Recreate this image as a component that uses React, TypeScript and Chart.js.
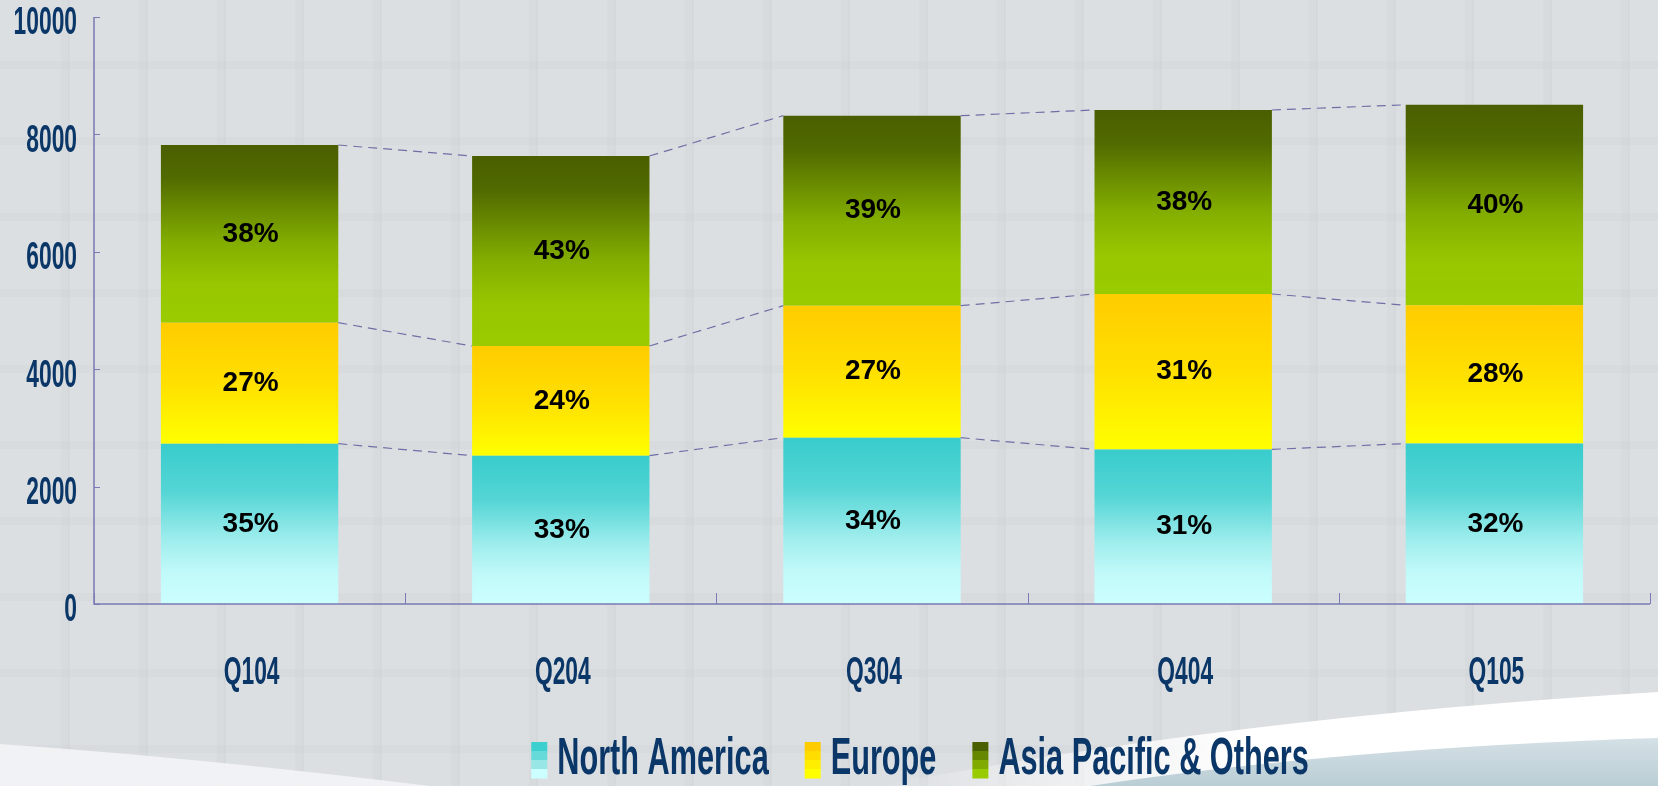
import React, { useEffect, useRef } from "react";
import { Chart, registerables } from "chart.js";

Chart.register(...registerables);

// ---- data ----
const categories = ["Q104", "Q204", "Q304", "Q404", "Q105"];
const seriesNames = ["North America", "Europe", "Asia Pacific & Others"];
const northAmerica = [2731, 2527, 2833, 2634, 2733];
const europe = [2061, 1868, 2249, 2647, 2356];
const asiaPacific = [3027, 3237, 3237, 3135, 3415];
const naLabels = ["35%", "33%", "34%", "31%", "32%"];
const euLabels = ["27%", "24%", "27%", "31%", "28%"];
const apLabels = ["38%", "43%", "39%", "38%", "40%"];
const yTicks = [0, 2000, 4000, 6000, 8000, 10000];

const stackData = [northAmerica, europe, asiaPacific];
const stackLabels = [naLabels, euLabels, apLabels];

// ---- styles ----
const NAVY = "#0B3768";
const AXIS = "#7A7AB4";
const DASH = "#6F6FA6";
const FONT = '"Liberation Sans", Arial, sans-serif';

type Stop = [number, string];
const gradStops: Stop[][] = [
  [
    [0, "#38CCCC"],
    [0.3, "#55D5D5"],
    [0.6, "#9FEDED"],
    [0.8, "#C1F9F9"],
    [1, "#CCFFFF"],
  ],
  [
    [0, "#FFCC00"],
    [0.5, "#FFE000"],
    [1, "#FFFF00"],
  ],
  [
    [0, "#4A5E00"],
    [0.18, "#516A00"],
    [0.55, "#83AE00"],
    [0.78, "#98C600"],
    [1, "#99CC00"],
  ],
];
const legendSteps = [
  ["#3CCFCF", "#66D9D9", "#99E6E6", "#CCFFFF"],
  ["#FFCC00", "#FFDD00", "#FFEE00", "#FFFF00"],
  ["#4A6000", "#668800", "#80AA00", "#99CC00"],
];

function makeGrad(ctx: CanvasRenderingContext2D, yTop: number, yBot: number, stops: Stop[]) {
  const g = ctx.createLinearGradient(0, yTop, 0, yBot);
  stops.forEach(([o, c]) => g.addColorStop(o, c));
  return g;
}

function squash(
  ctx: CanvasRenderingContext2D,
  text: string,
  x: number,
  y: number,
  size: number,
  sx: number,
  align: CanvasTextAlign
) {
  ctx.save();
  ctx.translate(x, y);
  ctx.scale(sx, 1);
  ctx.font = `bold ${size}px ${FONT}`;
  ctx.textAlign = align;
  ctx.textBaseline = "middle";
  ctx.fillStyle = NAVY;
  ctx.fillText(text, 0, 0);
  ctx.restore();
}

const backgroundPlugin = {
  id: "bgPlugin",
  beforeDraw(chart: any) {
    const ctx: CanvasRenderingContext2D = chart.ctx;
    const w = chart.width;
    const h = chart.height;
    ctx.save();
    ctx.fillStyle = "#DCDFE2";
    ctx.fillRect(0, 0, w, h);
    // very faint texture grid
    ctx.strokeStyle = "rgba(190,195,200,0.12)";
    ctx.lineWidth = 8;
    for (let x = 65; x < w; x += 78) {
      ctx.beginPath();
      ctx.moveTo(x, 0);
      ctx.lineTo(x, h);
      ctx.stroke();
    }
    for (let y = 65; y < h; y += 76) {
      ctx.beginPath();
      ctx.moveTo(0, y);
      ctx.lineTo(w, y);
      ctx.stroke();
    }
    ctx.strokeStyle = "rgba(200,204,209,0.25)";
    ctx.lineWidth = 2;
    for (let x = 69; x < w; x += 78) {
      ctx.beginPath();
      ctx.moveTo(x, 0);
      ctx.lineTo(x, h);
      ctx.stroke();
    }
    // bottom-left light arc
    ctx.beginPath();
    ctx.moveTo(0, 744);
    ctx.quadraticCurveTo(200, 758, 430, h);
    ctx.lineTo(0, h);
    ctx.closePath();
    ctx.fillStyle = "rgba(245,246,248,0.85)";
    ctx.fill();
    // white swoosh
    const wg = ctx.createLinearGradient(880, 0, 1250, 0);
    wg.addColorStop(0, "rgba(255,255,255,0)");
    wg.addColorStop(1, "rgba(255,255,255,1)");
    ctx.beginPath();
    ctx.moveTo(880, h);
    ctx.quadraticCurveTo(1230, 718, w, 692);
    ctx.lineTo(w, h);
    ctx.closePath();
    ctx.fillStyle = wg;
    ctx.fill();
    // blue-grey band under the swoosh
    const bg = ctx.createLinearGradient(0, 740, 0, h);
    bg.addColorStop(0, "#D3E0E5");
    bg.addColorStop(1, "#BACDD5");
    ctx.beginPath();
    ctx.moveTo(1090, h);
    ctx.quadraticCurveTo(1340, 748, w, 738);
    ctx.lineTo(w, h);
    ctx.closePath();
    ctx.fillStyle = bg;
    ctx.fill();
    ctx.restore();
  },
};

const overlayPlugin = {
  id: "overlayPlugin",
  afterDatasetsDraw(chart: any) {
    const ctx: CanvasRenderingContext2D = chart.ctx;
    const area = chart.chartArea;
    const xs = chart.scales.x;
    const ys = chart.scales.y;
    ctx.save();
    // dashed connectors
    ctx.strokeStyle = DASH;
    ctx.lineWidth = 1.2;
    ctx.setLineDash([9, 6]);
    chart.data.datasets.forEach((_: any, di: number) => {
      const meta = chart.getDatasetMeta(di);
      for (let i = 0; i < meta.data.length - 1; i++) {
        const a = meta.data[i].getProps(["x", "y", "width"], true);
        const b = meta.data[i + 1].getProps(["x", "y", "width"], true);
        ctx.beginPath();
        ctx.moveTo(a.x + a.width / 2, a.y);
        ctx.lineTo(b.x - b.width / 2, b.y);
        ctx.stroke();
      }
    });
    ctx.setLineDash([]);
    // percent labels
    ctx.fillStyle = "#000";
    ctx.font = `bold 28px ${FONT}`;
    ctx.textAlign = "center";
    ctx.textBaseline = "middle";
    chart.data.datasets.forEach((_: any, di: number) => {
      const meta = chart.getDatasetMeta(di);
      meta.data.forEach((el: any, i: number) => {
        const p = el.getProps(["x", "y", "base"], true);
        ctx.fillText(stackLabels[di][i], p.x + 1, (p.y + p.base) / 2);
      });
    });
    // axes
    ctx.strokeStyle = AXIS;
    ctx.lineWidth = 1.5;
    ctx.beginPath();
    ctx.moveTo(area.left, area.top);
    ctx.lineTo(area.left, area.bottom);
    ctx.lineTo(area.right, area.bottom);
    ctx.stroke();
    ctx.lineWidth = 1;
    yTicks.forEach((t) => {
      const y = Math.round(ys.getPixelForValue(t)) + 0.5;
      ctx.beginPath();
      ctx.moveTo(area.left, y);
      ctx.lineTo(area.left + 6, y);
      ctx.stroke();
    });
    const step = (area.right - area.left) / categories.length;
    for (let i = 0; i <= categories.length; i++) {
      const x = Math.round(area.left + i * step) + 0.5;
      ctx.beginPath();
      ctx.moveTo(x, area.bottom);
      ctx.lineTo(x, area.bottom - 11);
      ctx.stroke();
    }
    ctx.restore();

    // tick labels
    yTicks.forEach((t) => {
      squash(ctx, String(t), 77, ys.getPixelForValue(t) + 7, 38, 0.6, "right");
    });
    categories.forEach((c, i) => {
      squash(ctx, c, xs.getPixelForValue(i) + 2, 674, 38, 0.6, "center");
    });

    // legend
    const size = 52;
    const sx = 0.59;
    ctx.save();
    ctx.font = `bold ${size}px ${FONT}`;
    const widths = seriesNames.map((s) => ctx.measureText(s).width * sx);
    ctx.restore();
    const boxW = 16;
    const gap = 10;
    const itemGap = 36;
    const total = widths.reduce((a, b) => a + b, 0) + seriesNames.length * (boxW + gap) + (seriesNames.length - 1) * itemGap;
    let x = 920 - total / 2;
    const boxTop = 742;
    const boxH = 36;
    seriesNames.forEach((s, i) => {
      const steps = legendSteps[i];
      steps.forEach((c, k) => {
        ctx.fillStyle = c;
        ctx.fillRect(x, boxTop + (k * boxH) / steps.length, boxW, boxH / steps.length + 0.5);
      });
      x += boxW + gap;
      squash(ctx, s, x, 760, size, sx, "left");
      x += widths[i] + itemGap;
    });
  },
};

export default function App() {
  const ref = useRef<HTMLCanvasElement | null>(null);
  useEffect(() => {
    if (!ref.current) return;
    const datasets = stackData.map((vals, di) => ({
      label: seriesNames[di],
      data: vals,
      borderWidth: 0,
      categoryPercentage: 0.57,
      barPercentage: 1,
      backgroundColor: (c: any) => {
        const chart = c.chart;
        if (!chart.chartArea || c.type !== "data") return gradStops[di][0][1];
        const ys = chart.scales.y;
        let base = 0;
        for (let k = 0; k < di; k++) base += stackData[k][c.dataIndex];
        const top = base + stackData[di][c.dataIndex];
        return makeGrad(chart.ctx, ys.getPixelForValue(top), ys.getPixelForValue(base), gradStops[di]);
      },
    }));
    const chart = new Chart(ref.current, {
      type: "bar",
      data: { labels: categories, datasets },
      options: {
        responsive: false,
        animation: false,
        events: [],
        layout: { padding: { left: 94, right: 8, top: 17, bottom: 182 } },
        plugins: { legend: { display: false }, tooltip: { enabled: false } },
        scales: {
          x: { stacked: true, display: false },
          y: { stacked: true, display: false, min: 0, max: 10000 },
        },
      },
      plugins: [backgroundPlugin, overlayPlugin],
    });
    return () => chart.destroy();
  }, []);
  return (
    <div style={{ position: "absolute", left: 0, top: 0, width: 1658, height: 786 }}>
      <canvas ref={ref} width={1658} height={786} />
    </div>
  );
}
